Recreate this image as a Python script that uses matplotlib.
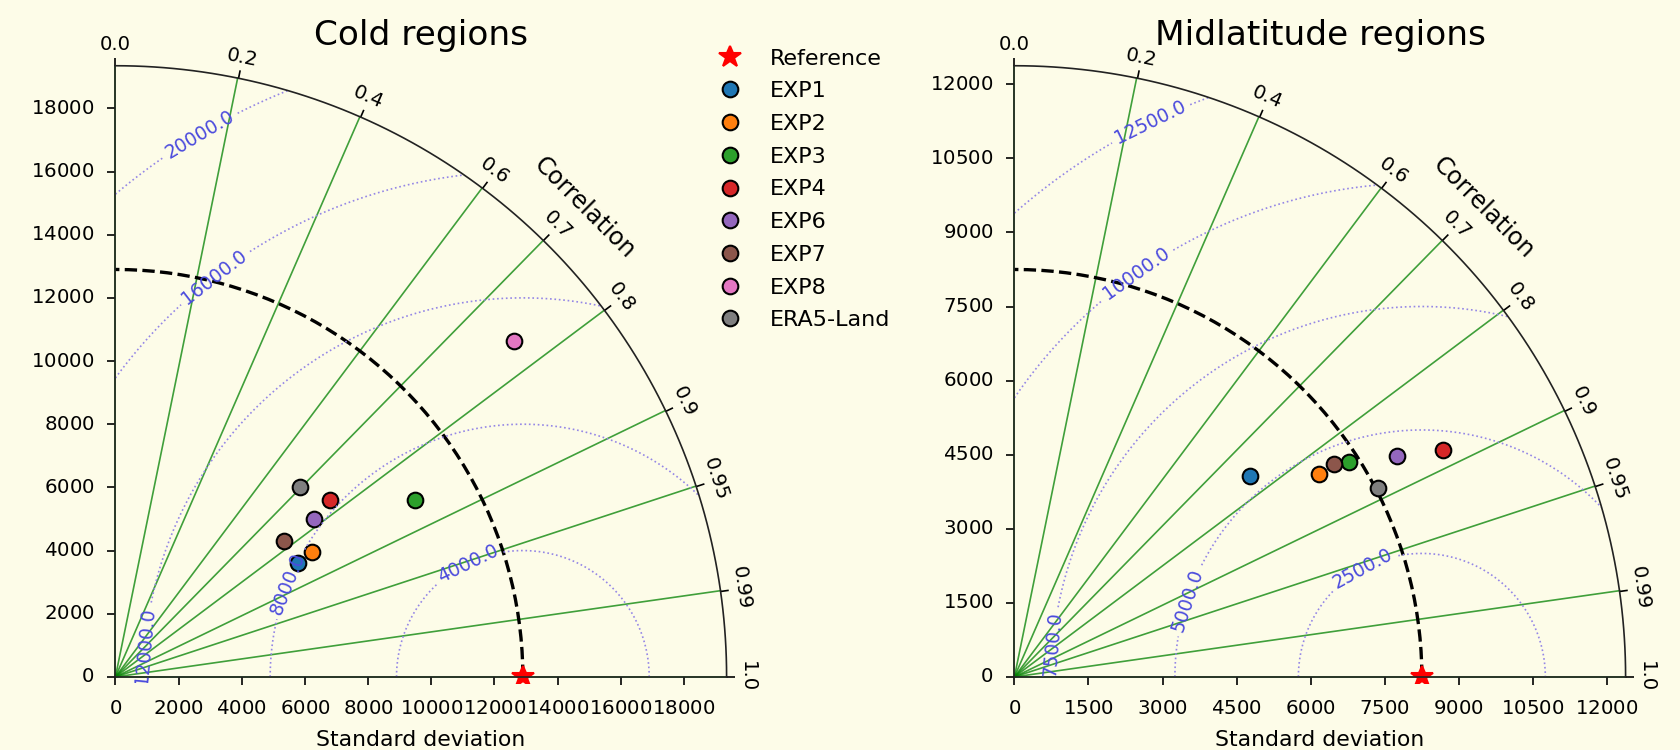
import numpy as np
import matplotlib
matplotlib.use('Agg')
import matplotlib.pyplot as plt
from matplotlib.projections import PolarAxes
import mpl_toolkits.axisartist.floating_axes as FA
import mpl_toolkits.axisartist.grid_finder as GF

# data
names = ['EXP1', 'EXP2', 'EXP3', 'EXP4', 'EXP6', 'EXP7', 'EXP8', 'ERA5-Land']
colors = ['tab:blue', 'tab:orange', 'tab:green', 'tab:red', 'tab:purple',
          'tab:brown', 'tab:pink', 'tab:gray']

cold_ref = 12900
cold_std = [6810, 7370, 11020, 8800, 8020, 6840, 16520, 8375]
cold_corr = [0.847, 0.843, 0.861, 0.772, 0.783, 0.778, 0.7645, 0.697]
cold_levels = [4000, 8000, 12000, 16000, 20000]

mid_ref = 8250
mid_std = [6275, 7410, 8050, 9815, 8950, 7770, np.nan, 8300]
mid_corr = [0.761, 0.833, 0.841, 0.8835, 0.866, 0.832, np.nan, 0.887]
mid_levels = [2500, 5000, 7500, 10000, 12500]

rlocs = np.array([0, 0.2, 0.4, 0.6, 0.7, 0.8, 0.9, 0.95, 0.99, 1])

# where the contour labels sit (x, y in std units)
cold_lab_xy = [(11100, 3700), (5250, 3050), (820, 1000), (2650, 13300), (2650, 17200)]
mid_lab_xy = [(7030, 2250), (3920, 1420), (745, 660), (2450, 8200), (2890, 10950)]

bg = '#fdfce8'
plt.rcParams['font.family'] = 'DejaVu Sans'


def taylor(fig, rect, title, refstd, stds, corrs, levels, lab_xy):
    smax = 1.5 * refstd
    tr = PolarAxes.PolarTransform(apply_theta_transforms=False)
    tlocs = np.arccos(rlocs)
    gl1 = GF.FixedLocator(tlocs)
    tf1 = GF.DictFormatter(dict(zip(tlocs, map(str, rlocs))))
    gh = FA.GridHelperCurveLinear(tr, extremes=(0, np.pi / 2, 0, smax),
                                  grid_locator1=gl1, tick_formatter1=tf1)
    ax = FA.FloatingAxes(fig, rect, grid_helper=gh)
    fig.add_axes(ax)
    ax.set_facecolor(bg)

    ax.axis["top"].set_axis_direction("bottom")
    ax.axis["top"].toggle(ticklabels=True, label=True)
    ax.axis["top"].major_ticklabels.set_axis_direction("top")
    ax.axis["top"].label.set_axis_direction("top")
    ax.axis["top"].label.set_text("Correlation")
    ax.axis["top"].label.set_fontsize(11.5)
    ax.axis["top"].major_ticklabels.set_fontsize(9.5)

    ax.axis["left"].set_axis_direction("bottom")
    ax.axis["left"].label.set_text("Standard deviation")
    ax.axis["left"].label.set_fontsize(10.5)
    ax.axis["left"].label.set_pad(7)
    ax.axis["left"].major_ticklabels.set_fontsize(9.5)

    ax.axis["right"].set_axis_direction("top")
    ax.axis["right"].toggle(ticklabels=True)
    ax.axis["right"].major_ticklabels.set_axis_direction("left")
    ax.axis["right"].major_ticklabels.set_fontsize(9.5)
    ax.axis["bottom"].set_visible(False)
    for k in ["top", "left", "right"]:
        ax.axis[k].major_ticks.set_tick_out(True)
        ax.axis[k].major_ticks.set_ticksize(4)
        ax.axis[k].major_ticklabels.set_pad(6)
        ax.axis[k].line.set_color('#222222')
    ax.axis["top"].major_ticklabels.set_pad(3.5)

    pax = ax.get_aux_axes(tr)

    # radial correlation lines
    for t in tlocs:
        pax.plot([t, t], [0, smax], color='green', lw=0.8, alpha=0.75)

    # reference std arc
    th = np.linspace(0, np.pi / 2)
    pax.plot(th, np.full_like(th, refstd), 'k--', lw=1.6)
    handles = [pax.plot(0, refstd, 'r*', ms=11, label='Reference')[0]]

    for s, c, n, col in zip(stds, corrs, names, colors):
        h, = pax.plot(np.arccos(c), s, 'o', ms=7.5, mfc=col, mec='k',
                      mew=1, label=n)
        handles.append(h)

    # RMS contours
    rs, ts = np.meshgrid(np.linspace(0, smax, 200), np.linspace(0, np.pi / 2, 200))
    rms = np.sqrt(refstd**2 + rs**2 - 2 * refstd * rs * np.cos(ts))
    cs = pax.contour(ts, rs, rms, levels=levels, colors='#9486e6',
                     linestyles=':', linewidths=0.8)
    pos = [(np.arctan2(y, x), np.hypot(x, y)) for x, y in lab_xy]
    pax.clabel(cs, inline=1, fontsize=9, fmt='%.1f', colors='#4b4bdd',
               manual=pos)

    fig.text(rect[0] + rect[2] / 2, 0.952, title, ha='center', va='center',
             fontsize=16.5)
    return handles


fig = plt.figure(figsize=(16.81 / 1.5, 7.5 / 1.5), dpi=150, facecolor=bg)
h = taylor(fig, [0.0650, 0.0893, 0.3709, 0.8312], 'Cold regions', cold_ref,
           cold_std, cold_corr, cold_levels, cold_lab_xy)
taylor(fig, [0.5998, 0.0893, 0.3709, 0.8312], 'Midlatitude regions', mid_ref,
       mid_std, mid_corr, mid_levels, mid_lab_xy)

fig.legend(h, [x.get_label() for x in h], loc='upper left',
           bbox_to_anchor=(0.409, 0.962), frameon=False, fontsize=10.7,
           labelspacing=0.57, numpoints=1)

fig.savefig('out.png', dpi=150, facecolor=bg)
